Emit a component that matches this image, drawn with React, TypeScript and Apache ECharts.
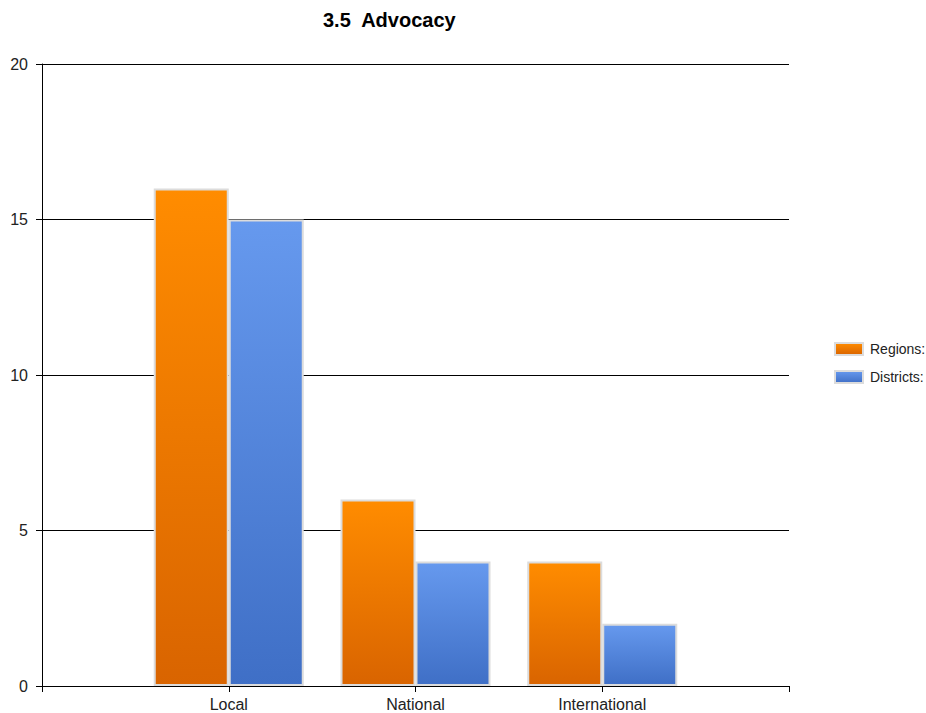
import React, { useEffect, useRef } from "react";
import * as echarts from "echarts";

const categories = ["Local", "National", "International"];
const regions = [16, 6, 4];
const districts = [15, 4, 2];
const yTicks = [0, 5, 10, 15, 20];

const FONT = "'Liberation Sans', Arial, sans-serif";

export default function App() {
  const ref = useRef<HTMLDivElement>(null);

  useEffect(() => {
    if (!ref.current) return;
    const chart = echarts.init(ref.current, undefined, { renderer: "svg" });

    const grad = (top: string, bottom: string) =>
      new echarts.graphic.LinearGradient(0, 0, 0, 1, [
        { offset: 0, color: top },
        { offset: 1, color: bottom },
      ]);

    chart.setOption({
      animation: false,
      backgroundColor: "#ffffff",
      title: {
        text: "3.5  Advocacy",
        left: 323,
        top: 10,
        padding: 0,
        textStyle: { fontFamily: FONT, fontSize: 20, fontWeight: "bold", color: "#000" },
      },
      legend: {
        orient: "vertical",
        left: 834,
        top: 342,
        padding: 0,
        itemWidth: 28,
        itemHeight: 12,
        itemGap: 14,
        icon: "rect",
        textStyle: { fontFamily: FONT, fontSize: 14, color: "#222", padding: [0, 0, 0, 2] },
        data: ["Regions:", "Districts:"],
      },
      grid: { left: 42, right: 137, top: 64, bottom: 27, containLabel: false },
      xAxis: {
        type: "value",
        min: 0,
        max: 4,
        interval: 1,
        axisLine: { show: true, lineStyle: { color: "#000", width: 1 } },
        axisTick: { show: true, length: 6, lineStyle: { color: "#000" } },
        splitLine: { show: false },
        axisLabel: {
          fontFamily: FONT,
          fontSize: 16,
          color: "#222",
          margin: 10,
          formatter: (v: number) => categories[v - 1] ?? "",
        },
      },
      yAxis: {
        type: "value",
        min: yTicks[0],
        max: yTicks[yTicks.length - 1],
        interval: 5,
        axisLine: { show: true, lineStyle: { color: "#000", width: 1 } },
        axisTick: { show: true, length: 6, lineStyle: { color: "#000" } },
        splitLine: { show: true, lineStyle: { color: "#000", width: 1 } },
        axisLabel: { fontFamily: FONT, fontSize: 16, color: "#222", margin: 14 },
      },
      series: [
        {
          name: "Regions:",
          type: "bar",
          barWidth: 75,
          barGap: "0%",
          data: regions.map((v, i) => [i + 1, v]),
          itemStyle: {
            color: grad("#ff8c00", "#d96400"),
            borderColor: "#dcdcdc",
            borderWidth: 2,
          },
        },
        {
          name: "Districts:",
          type: "bar",
          barWidth: 75,
          barGap: "0%",
          data: districts.map((v, i) => [i + 1, v]),
          itemStyle: {
            color: grad("#6699ee", "#3f6fc6"),
            borderColor: "#dcdcdc",
            borderWidth: 2,
          },
        },
      ],
    });

    return () => chart.dispose();
  }, []);

  return <div ref={ref} style={{ width: 926, height: 713, position: "absolute", left: 0, top: 0 }} />;
}
